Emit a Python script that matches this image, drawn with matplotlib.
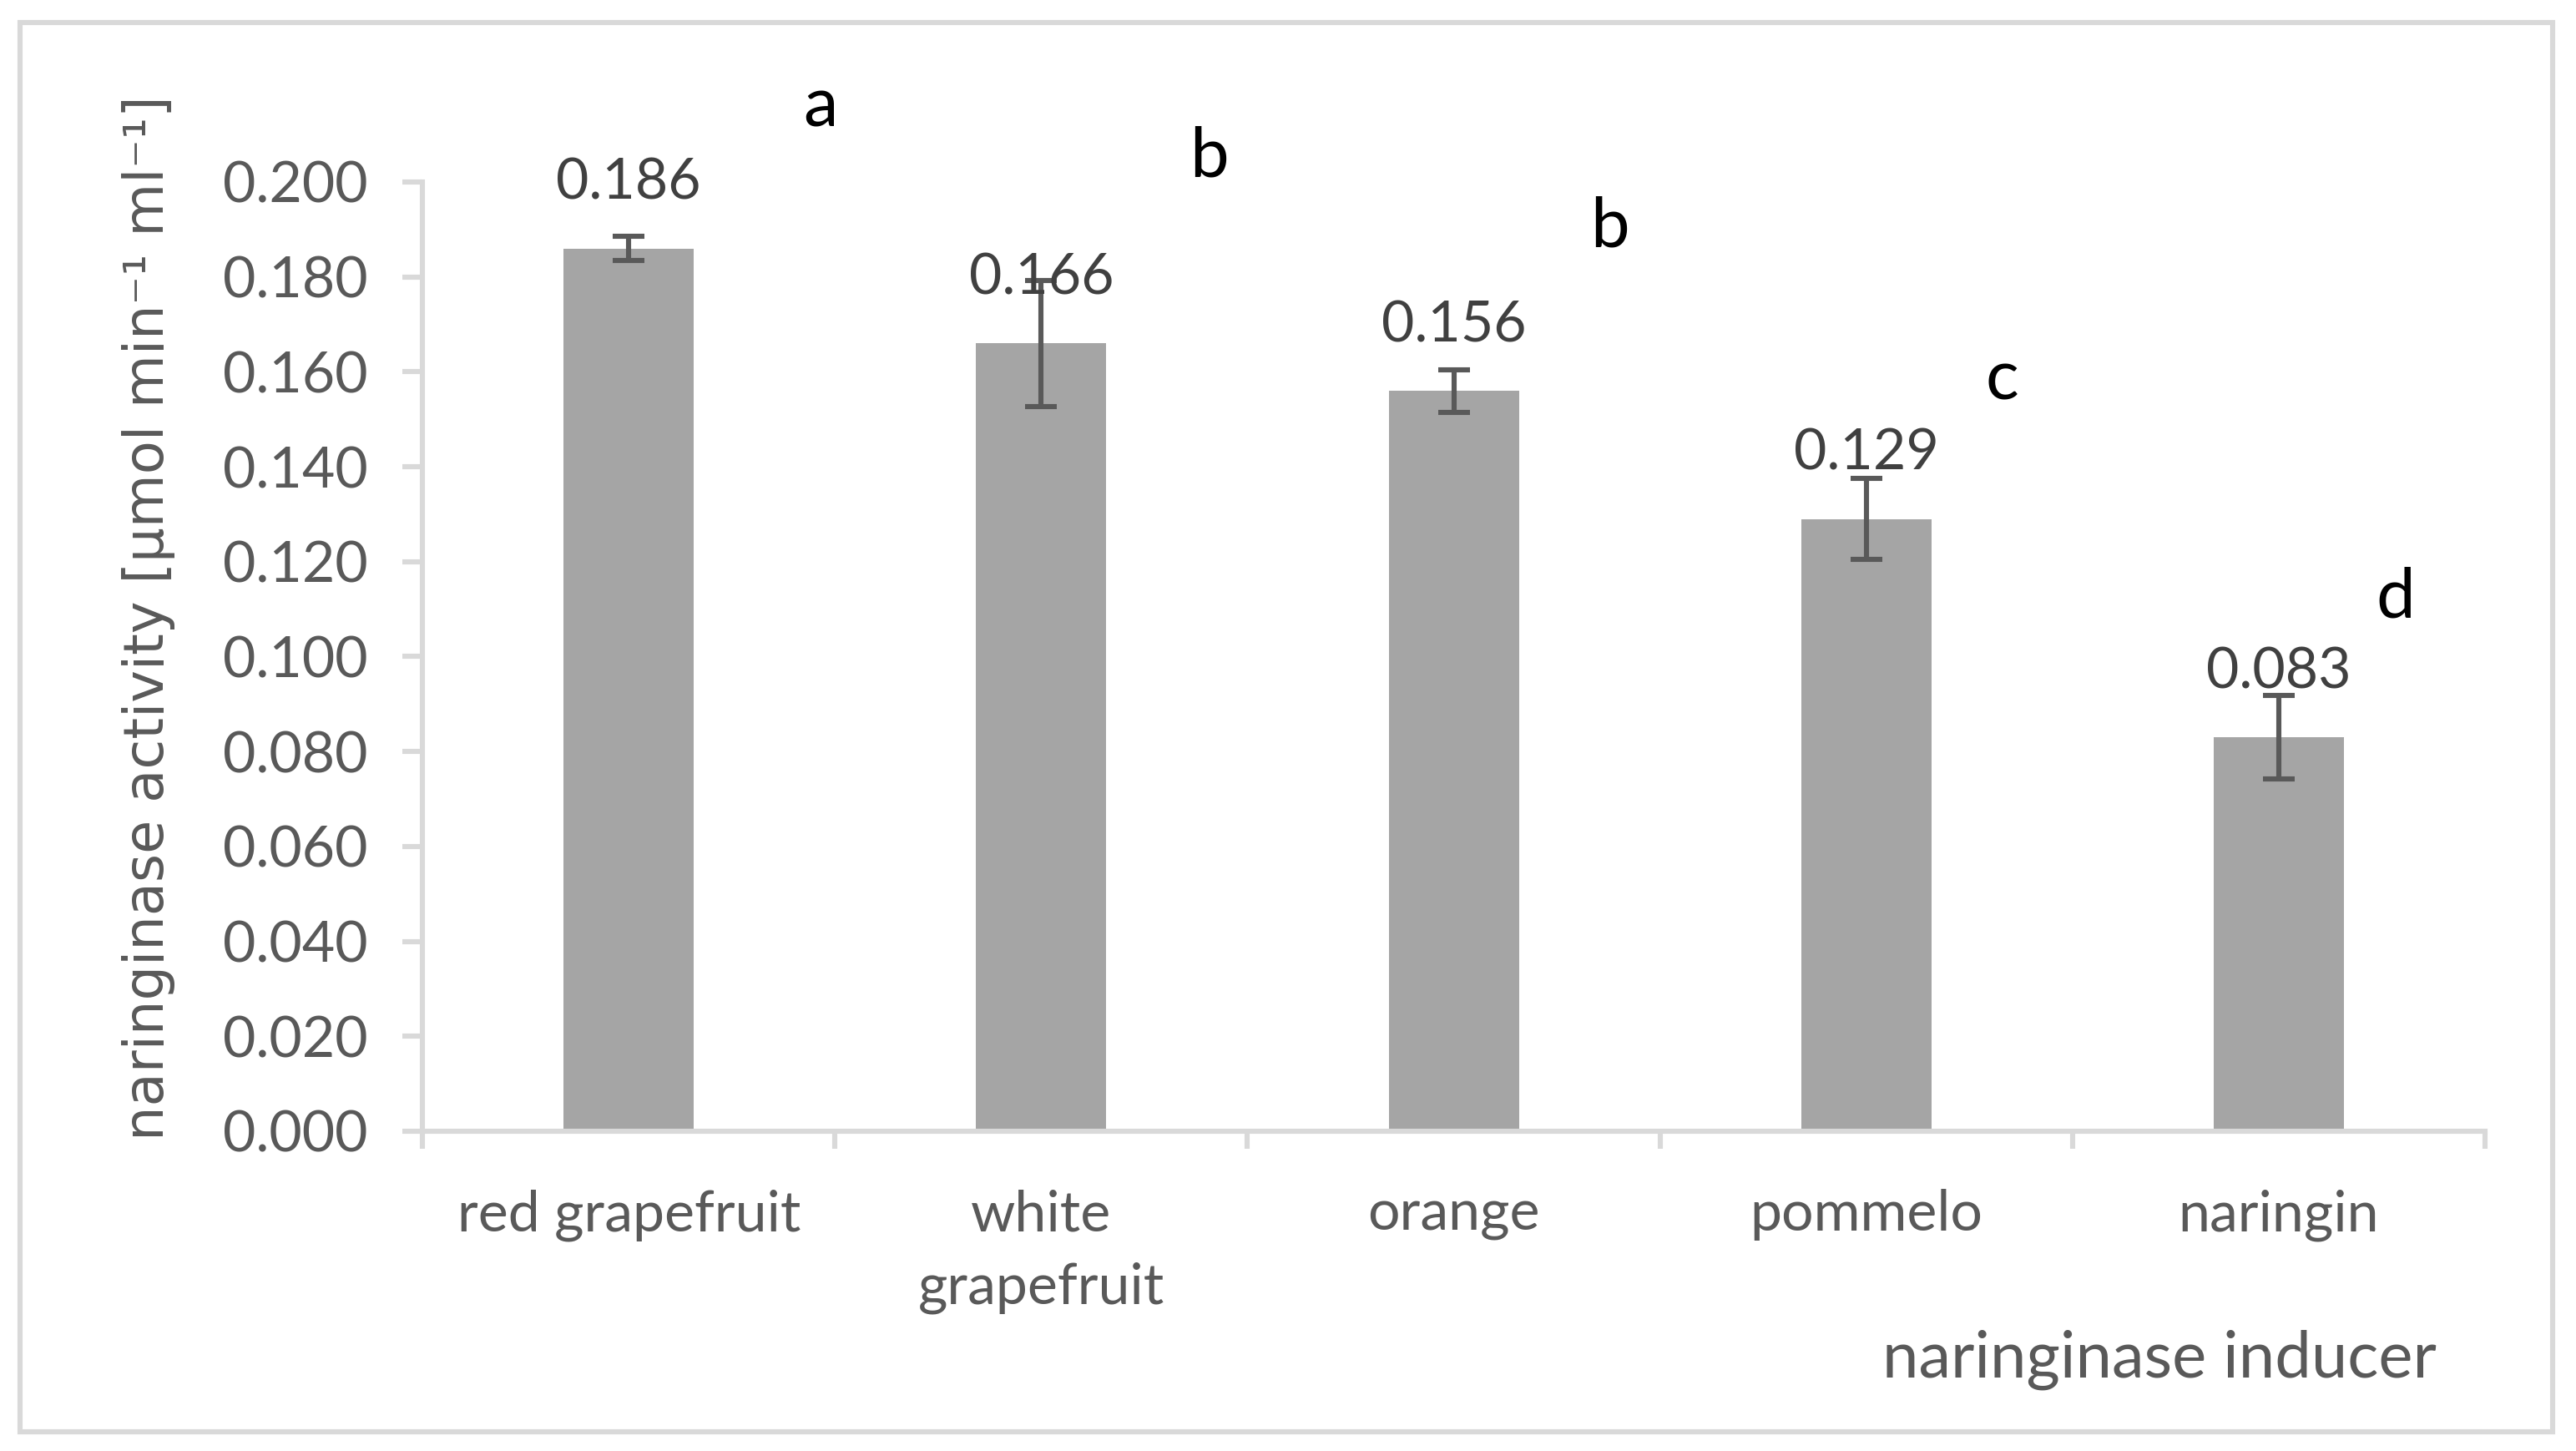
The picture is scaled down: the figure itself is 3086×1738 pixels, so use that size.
import matplotlib.pyplot as plt

# data
inducers = ["red grapefruit", "white\ngrapefruit", "orange", "pommelo", "naringin"]
activity = [0.186, 0.166, 0.156, 0.129, 0.083]
errors = [0.0025, 0.0133, 0.0045, 0.0085, 0.0088]
value_labels = ["0.186", "0.166", "0.156", "0.129", "0.083"]

# significance letters (placed by hand in the original)
letters = ["a", "b", "b", "c", "d"]
letter_x = [0.464, 1.407, 2.379, 3.330, 4.283]
letter_y = [0.2116, 0.2011, 0.1863, 0.1541, 0.1082]

yticks = [0.000, 0.020, 0.040, 0.060, 0.080, 0.100, 0.120, 0.140, 0.160, 0.180, 0.200]

grey_text = "#595959"
axis_col = "#d9d9d9"
font = "Lato"

fig = plt.figure(figsize=(15.43, 8.69), dpi=200)
ax = fig.add_axes([0.164, 0.2204, 0.8007, 0.6542])

x = list(range(len(inducers)))
ax.bar(x, activity, width=0.316, color="#a5a5a5", zorder=2)
ax.errorbar(x, activity, yerr=errors, fmt="none", ecolor="#595959",
            elinewidth=2.2, capsize=7, capthick=2.2, zorder=3, clip_on=False)

for xi, v, lab in zip(x, activity, value_labels):
    ax.annotate(lab, (xi, v), xytext=(0, 28), textcoords="offset points",
                ha="center", va="center", fontsize=24.5, color="#404040",
                family=font, annotation_clip=False)

for lx, ly, l in zip(letter_x, letter_y, letters):
    ax.text(lx, ly, l, ha="center", va="baseline", fontsize=30,
            color="black", family=font, clip_on=False)

ax.set_xlim(-0.5, len(inducers) - 0.5)
ax.set_ylim(0, 0.2)

# y axis
ax.set_yticks(yticks)
ax.set_yticklabels(["%.3f" % t for t in yticks], fontsize=24.5,
                   color=grey_text, family=font)
ax.tick_params(axis="y", length=8.5, width=2.2, color=axis_col, pad=15)

# x axis: tick marks between categories, labels at centers
ax.set_xticks([i - 0.5 for i in range(len(inducers) + 1)])
ax.set_xticklabels([])
ax.tick_params(axis="x", which="major", length=7.5, width=2.2, color=axis_col)
ax.set_xticks(x, minor=True)
ax.set_xticklabels(inducers, minor=True, fontsize=24.5, color=grey_text,
                   family=font, linespacing=1.5)
ax.tick_params(axis="x", which="minor", length=0, pad=25)

for side in ["top", "right"]:
    ax.spines[side].set_visible(False)
for side in ["left", "bottom"]:
    ax.spines[side].set_color(axis_col)
    ax.spines[side].set_linewidth(2.2)

fig.text(0.946, 0.0506, "naringinase inducer", ha="right", va="baseline",
         fontsize=28, color=grey_text, family=font)
fig.text(0.0578, 0.574, "naringinase activity [µmol min⁻¹ ml⁻¹]",
         rotation=90, ha="center", va="center", fontsize=23.6,
         color=grey_text, family="DejaVu Sans")

# outer chart border
fig.patches.append(plt.Rectangle((24 / 3086, 1 - 1715 / 1738),
                                 (3058 - 24) / 3086, (1715 - 27) / 1738,
                                 transform=fig.transFigure, fill=False,
                                 edgecolor=axis_col, linewidth=2.2))

fig.savefig("out.png", dpi=200)
